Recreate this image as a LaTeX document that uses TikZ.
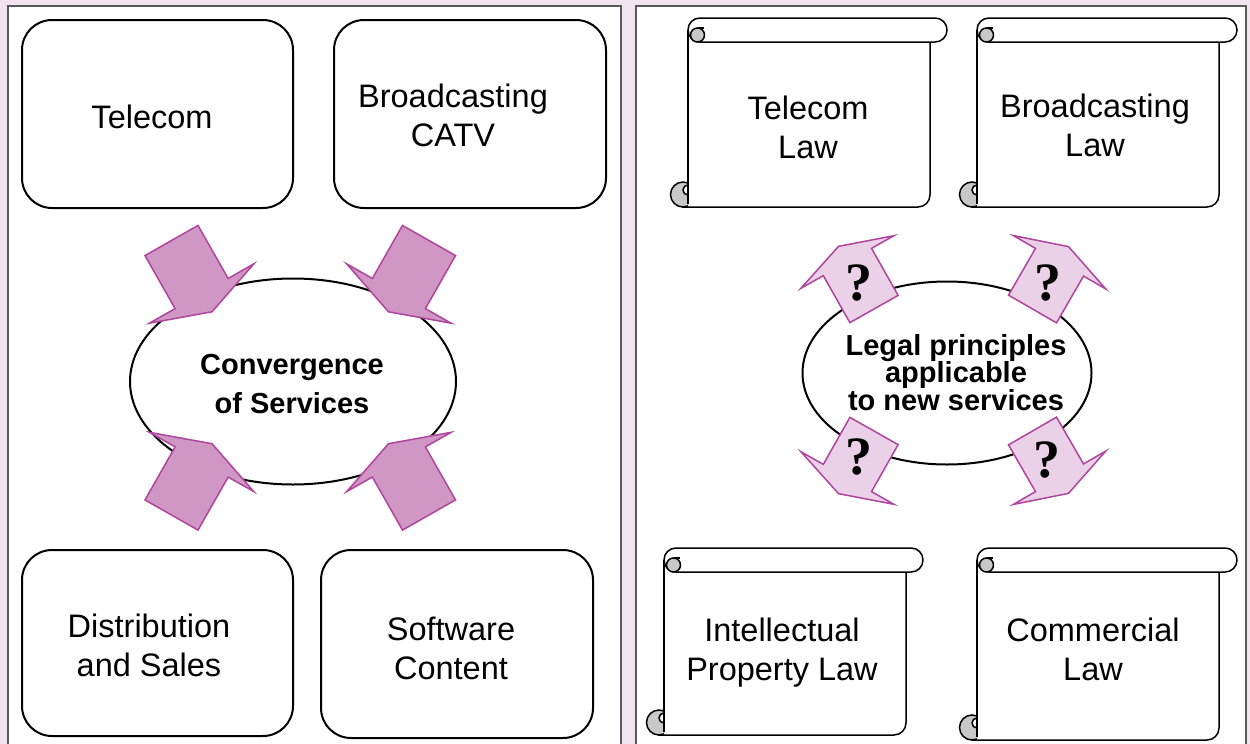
\documentclass[tikz,border=0pt]{standalone}
\usepackage{fontspec}
\setmainfont{Liberation Sans}
\newfontfamily\qmarkfont{Liberation Serif}
\usetikzlibrary{shapes.geometric}

\definecolor{pagepink}{HTML}{F2E4EF}
\definecolor{panelgray}{HTML}{5A5A5A}
\definecolor{curlgray}{HTML}{C8C8C8}
\definecolor{arrowline}{HTML}{B0449E}
\definecolor{darkfill}{HTML}{D097C4}
\definecolor{lightfill}{HTML}{EBD1E8}

% A horizontal law scroll: body left/right edges, top, bottom, right end of the top roll
\newcommand\lawscroll[5]{%
  \fill[white] (#1,{#3+12}) rectangle (#2,#4);
  \draw[scrollline, rounded corners=12pt] (#2,{#3+24}) -- (#2,#4) -- ({#1-6},#4);
  \draw[scrollline] (#1,{#3+12}) -- (#1,{#4-3});
  \draw[scrollline, fill=white, rounded corners=11.9pt] (#1,#3) rectangle (#5,{#3+24});
  \draw[scrollline, fill=curlgray] ({#1+9.5},{#3+17}) circle[radius=7];
  \draw[scrollline] ({#1+9.5},{#3+10}) -- ({#1+16},{#3+10});
  \begin{scope}
    \clip ({#1-30},{#4-30}) rectangle (#1,{#4+3});
    \draw[scrollline, fill=curlgray] ({#1-5},{#4-12.5}) circle[radius=12.5];
    \draw[scrollline, fill=white] (#1,{#4-17}) circle[radius=5];
  \end{scope}
  \draw[scrollline] (#1,{#4-25}) -- (#1,{#4-3});
}

\begin{document}
\begin{tikzpicture}[x=1pt,y=-1pt,
  panel/.style={draw=panelgray, line width=2pt, fill=white},
  svcbox/.style={draw=black, line width=2pt, rounded corners=30pt, fill=white, inner sep=0pt},
  lbl/.style={font=\fontsize{32.5}{39}\selectfont, align=center, inner sep=0pt},
  hub/.style={ellipse, draw=black, line width=2pt, fill=white, inner sep=0pt},
  hubtext/.style={font=\bfseries\fontsize{29}{39}\selectfont, align=center, inner sep=0pt},
  legaltext/.style={font=\bfseries\fontsize{29}{27.5}\selectfont, align=center, inner sep=0pt},
  scrollline/.style={draw=black, line width=1.5pt},
  darkarr/.style={draw=arrowline, line width=1.5pt, fill=darkfill, line join=miter},
  lightarr/.style={draw=arrowline, line width=1.5pt, fill=lightfill, line join=miter},
  qmark/.style={font=\qmarkfont\bfseries\fontsize{54}{54}\selectfont, inner sep=0pt},
  pics/inarrow/.style={code={
    \draw[darkarr] (0,-30.5) -- (61,-30.5) -- (61,-60) -- (82,0) -- (61,60) -- (61,30.5) -- (0,30.5) -- cycle;}},
  pics/outarrow/.style={code={
    \draw[lightarr] (0,-27.7) -- (54,-27.7) -- (54,-53.4) -- (72,0) -- (54,53.4) -- (54,27.7) -- (0,27.7) -- cycle;}}
]
\clip (0,0) rectangle (1250,744);
\fill[pagepink] (0,0) rectangle (1250,744);

% the two panels
\draw[panel] (8,6) rectangle (621,770);
\draw[panel] (636,6) rectangle (1246,770);

% ---- services side ----
\node[svcbox, minimum width=271pt, minimum height=188pt] (telecomBox) at (157.5,114) {};
\node[svcbox, minimum width=272pt, minimum height=188pt] (bcastBox) at (470,114) {};
\node[svcbox, minimum width=271pt, minimum height=186pt] (distBox) at (157.5,643) {};
\node[svcbox, minimum width=272pt, minimum height=188pt] (softBox) at (457,644) {};

\node[lbl] (telecomTxt) at (152,117) {Telecom};
\node[lbl] (bcastTxt) at (453,115.5) {Broadcasting\\CATV};
\node[lbl] (distTxt) at (149,645.5) {Distribution\\and Sales};
\node[lbl] (softTxt) at (451,648.5) {Software\\Content};

\node[hub, minimum width=326pt, minimum height=206pt] (conv) at (293,381.5) {};
\node[hubtext] (convTxt) at (292,384) {Convergence\\of Services};

\pic[rotate=-60.4] at (171.5,240.5) {inarrow};
\pic[rotate=-119.6] at (429,240.5) {inarrow};
\pic[rotate=60.4] at (171.5,515) {inarrow};
\pic[rotate=119.6] at (429,515) {inarrow};

% ---- law side ----
\lawscroll{688}{930}{18}{207}{947}
\lawscroll{977}{1219}{18}{207}{1237}
\lawscroll{664}{906}{548}{735}{923}
\lawscroll{977}{1219}{548}{740}{1237}

\node[lbl] (telLawTxt) at (808,127) {Telecom\\Law};
\node[lbl] (bcLawTxt) at (1095,125.5) {Broadcasting\\Law};
\node[lbl] (ipLawTxt) at (782,653) {Intellectual\\Property Law};
\node[lbl] (comLawTxt) at (1093,649.5) {Commercial\\Law};

\node[hub, minimum width=289pt, minimum height=183pt] (legal) at (947,373) {};
\node[legaltext] (legalTxt) at (956,372.5) {Legal principles\\applicable\\to new services};

\pic[rotate=119.5] at (874,309) {outarrow};
\pic[rotate=60] at (1032.5,309) {outarrow};
\pic[rotate=-119.5] at (874,431) {outarrow};
\pic[rotate=-60] at (1032.5,431) {outarrow};

\node[qmark] (qTL) at (859,283.5) {?};
\node[qmark] (qTR) at (1048,283) {?};
\node[qmark] (qBL) at (859,457) {?};
\node[qmark] (qBR) at (1047,460) {?};
\end{tikzpicture}
\end{document}
